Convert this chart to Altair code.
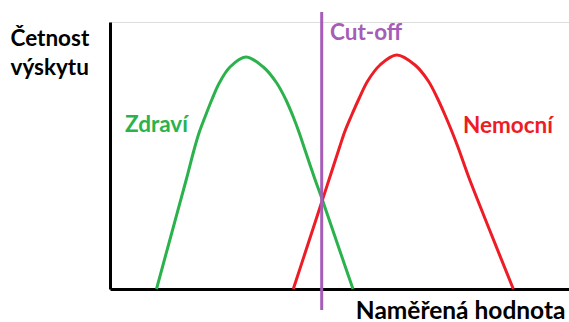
import altair as alt
import pandas as pd

# Healthy group distribution (measured value, frequency)
healthy_x = [46.5, 62, 76.7, 84, 89, 95, 101.7, 109.3, 120, 135.7, 153.3, 166.7, 176, 183.3, 189.3, 195, 204.5, 212.4, 227.5, 243]
healthy_y = [0, 57, 111, 139, 156, 172, 189, 206, 222, 232, 222, 206, 189, 172, 156, 139, 111, 89, 45, 0]

# Sick group distribution (measured value, frequency)
sick_x = [183.3, 197.7, 212.4, 220.2, 229.3, 235, 241.7, 249.3, 257.7, 270, 286.7, 305, 318.3, 327.3, 335, 341.7, 348.3, 358.3, 380, 403.3]
sick_y = [0, 44, 89, 113, 141, 158, 174, 191, 208, 224, 234, 224, 208, 191, 174, 158, 141, 113, 58, 0]

cutoff_value = [211.7]

X_DOMAIN = [0, 459]
Y_DOMAIN = [0, 267]

GREEN = "#2BB24C"
RED = "#EE1C25"
PURPLE = "#A55DB8"
FONT = "Lato"
SIZE = 22.5

curves = pd.concat([
    pd.DataFrame({"hodnota": healthy_x, "cetnost": healthy_y, "skupina": "Zdraví"}),
    pd.DataFrame({"hodnota": sick_x, "cetnost": sick_y, "skupina": "Nemocní"}),
])

x_enc = alt.X(
    "hodnota:Q",
    scale=alt.Scale(domain=X_DOMAIN, nice=False, zero=False),
    axis=alt.Axis(
        title="Naměřená hodnota", labels=False, ticks=False, grid=False,
        domainColor="black", domainWidth=3,
        titleFont=FONT, titleFontSize=24.5, titleFontWeight="bold", titleColor="black",
        titleAlign="right", titleAnchor="end", titleX=455, titleY=29,
        titleBaseline="alphabetic",
    ),
)
y_enc = alt.Y(
    "cetnost:Q",
    scale=alt.Scale(domain=Y_DOMAIN, nice=False),
    axis=alt.Axis(
        title=["Četnost", "výskytu"], labels=False, ticks=False, grid=False,
        domainColor="black", domainWidth=3,
        titleFont=FONT, titleFontSize=SIZE, titleFontWeight="bold", titleColor="black",
        titleAngle=0, titleAlign="left", titleBaseline="alphabetic",
        titleX=-100, titleY=23, titleLineHeight=29,
    ),
)

lines = alt.Chart(curves).mark_line(strokeWidth=3, interpolate="catmull-rom").encode(
    x=x_enc,
    y=y_enc,
    color=alt.Color(
        "skupina:N",
        scale=alt.Scale(domain=["Zdraví", "Nemocní"], range=[GREEN, RED]),
        legend=None,
    ),
    detail="skupina:N",
)

cutoff = alt.Chart(pd.DataFrame({"hodnota": cutoff_value})).mark_rule(
    color=PURPLE, strokeWidth=3
).encode(
    x=alt.X("hodnota:Q"),
    y=alt.value(-10),
    y2=alt.value(288),
)


def label(text, color, px, py):
    return alt.Chart(pd.DataFrame({"t": [text]})).mark_text(
        font=FONT, fontSize=SIZE, fontWeight="bold", color=color,
        align="left", baseline="alphabetic",
    ).encode(text="t:N", x=alt.value(px), y=alt.value(py))


labels = (
    label("Cut-off", PURPLE, 220, 18)
    + label("Zdraví", GREEN, 15, 110)
    + label("Nemocní", RED, 353, 111)
)

chart = (lines + cutoff + labels).properties(
    width=459,
    height=267,
    autosize="none",
    padding={"left": 110, "top": 22, "right": 0, "bottom": 33},
).configure_view(stroke=None).configure(background="white")

chart.save("out.html", embed_options={"renderer": "svg", "actions": False})
